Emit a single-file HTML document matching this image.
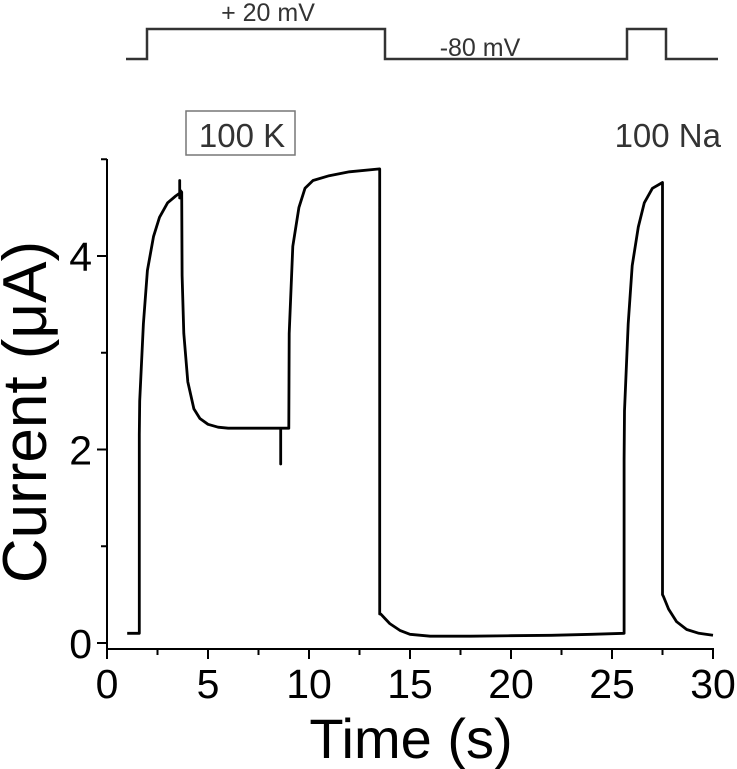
<!DOCTYPE html>
<html><head><meta charset="utf-8"><style>
body{margin:0;background:#fff;}
svg{display:block;font-family:"Liberation Sans",Arial,sans-serif;}
</style></head><body>
<svg width="737" height="769" viewBox="0 0 737 769">
<g id="protocol">
<polyline points="126,59 147,59 147,29 385,29 385,59 627,59 627,29 666,29 666,59 718,59" fill="none" stroke="#333" stroke-width="2.5"/>
<text x="268" y="21" font-size="25" fill="#333" text-anchor="middle">+ 20 mV</text>
<text x="480" y="56" font-size="25" fill="#333" text-anchor="middle">-80 mV</text>
</g>
<rect x="186" y="111" width="109" height="44" fill="none" stroke="#777" stroke-width="1.5"/>
<text x="242" y="147" font-size="33" fill="#333" text-anchor="middle">100 K</text>
<text x="721" y="147" font-size="33" fill="#333" text-anchor="end">100 Na</text>
<g id="axes"></g>
<path id="trace" fill="none" stroke="#000" stroke-width="2.8" stroke-linejoin="round"/>
<text x="411" y="758" font-size="56" text-anchor="middle">Time (s)</text>
<text transform="translate(46,412) rotate(-90)" font-size="62" text-anchor="middle">Current (μA)</text>
</svg>
<script>
const times =   [1.0,1.6,1.6,1.62,1.8,2.0,2.3,2.6,3.0,3.4,3.6,3.6,3.6,3.62,3.7,3.72,3.8,4.0,4.3,4.6,5.0,5.5,6.0,7.0,8.6,8.6,8.6,8.62,9.0,9.02,9.2,9.5,9.8,10.2,11,12,13.5,13.5,13.55,14,14.5,15,16,18,20,22,24,25.6,25.6,25.62,25.8,26.0,26.3,26.6,27.0,27.5,27.5,27.55,27.8,28.2,28.7,29.3,30.0];
const currents =[0.1,0.1,2.15,2.5,3.3,3.85,4.2,4.4,4.55,4.62,4.65,4.78,4.6,4.68,4.66,3.8,3.2,2.7,2.42,2.32,2.26,2.23,2.22,2.22,2.22,1.85,2.22,2.22,2.22,3.2,4.1,4.5,4.7,4.78,4.83,4.87,4.9,0.3,0.3,0.2,0.13,0.09,0.07,0.07,0.075,0.08,0.09,0.1,1.9,2.4,3.3,3.9,4.3,4.55,4.7,4.76,0.5,0.48,0.35,0.22,0.14,0.1,0.08];
const xTicks = [0,5,10,15,20,25,30];
const yTicks = [0,2,4];
const yMinor = [1,3,5];
const xMinor = [2.5,7.5,12.5,17.5,22.5,27.5];
const x = t => 107 + t*(713-107)/30;
const y = v => 643 - v*96.75;
const ns="http://www.w3.org/2000/svg";
const ax=document.getElementById('axes');
function mk(tag,attrs){const e=document.createElementNS(ns,tag);for(const k in attrs)e.setAttribute(k,attrs[k]);ax.appendChild(e);return e;}
let e=mk('line',{x1:107,y1:159,x2:107,y2:650,stroke:'#000','stroke-width':2});


e=mk('line',{x1:106,y1:649,x2:714,y2:649,stroke:'#000','stroke-width':2});


xTicks.forEach(t=>{
 let l=mk('line',{x1:x(t),y1:649,x2:x(t),y2:659,stroke:'#000','stroke-width':2});
 
 
 let s=mk('text',{x:x(t),y:698,'font-size':41,'text-anchor':'middle'});s.textContent=t;
 
 
});
xMinor.forEach(t=>{
 let l=mk('line',{x1:x(t),y1:649,x2:x(t),y2:655,stroke:'#000','stroke-width':2});
 
 
});
yTicks.forEach(v=>{
 let l=mk('line',{x1:97,y1:y(v),x2:107,y2:y(v),stroke:'#000','stroke-width':2});
 
 
 let s=mk('text',{x:92,y:y(v)+15,'font-size':41,'text-anchor':'end'});s.textContent=v;
 
 
});
yMinor.forEach(v=>{
 let l=mk('line',{x1:101,y1:y(v),x2:107,y2:y(v),stroke:'#000','stroke-width':2});
 
 
});
document.getElementById('trace').setAttribute('d',times.map((t,i)=>(i?'L':'M')+x(t).toFixed(1)+','+y(currents[i]).toFixed(1)).join(''));
</script>
</body></html>
